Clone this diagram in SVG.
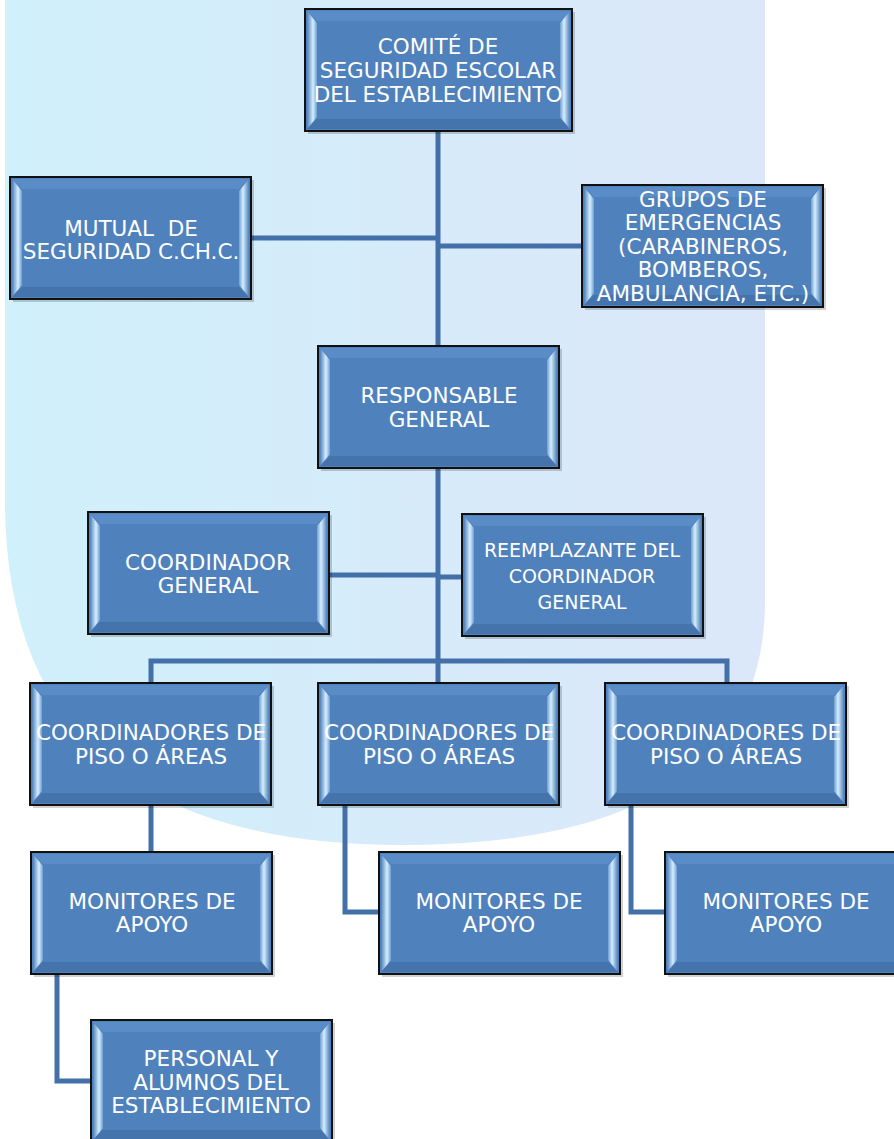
<svg xmlns="http://www.w3.org/2000/svg" xmlns:xlink="http://www.w3.org/1999/xlink" width="894" height="1139" viewBox="0 0 894 1139">
<style>
  .lbl{font-family:"DejaVu Sans","Liberation Sans",sans-serif;font-size:21.5px;fill:#ffffff;text-anchor:middle}
  .sm{font-size:19px}
  .conn{fill:none;stroke:#4370A8;stroke-width:5;stroke-linejoin:miter}
</style>
<defs>
  <linearGradient id="bg" x1="0" y1="0" x2="1" y2="0">
    <stop offset="0" stop-color="#D0F0FB"/>
    <stop offset="1" stop-color="#DCE7FA"/>
  </linearGradient>
  <linearGradient id="bevL" x1="0" y1="0" x2="1" y2="0">
    <stop offset="0" stop-color="#4F81BD"/>
    <stop offset="0.6" stop-color="#D6EEFD"/>
    <stop offset="1" stop-color="#6E9ED3"/>
  </linearGradient>
  <linearGradient id="bevR" x1="1" y1="0" x2="0" y2="0">
    <stop offset="0" stop-color="#4F81BD"/>
    <stop offset="0.6" stop-color="#D6EEFD"/>
    <stop offset="1" stop-color="#6E9ED3"/>
  </linearGradient>
  <g id="box">
    <rect x="3" y="3" width="241" height="122" fill="#000" opacity="0.18"/>
    <rect x="0" y="0" width="241" height="122" fill="#4F81BD" stroke="#111" stroke-width="2"/>
    <polygon points="2,2 239,2 229,12 12,12" fill="#5A8CC7"/>
    <polygon points="2,120 239,120 229,110 12,110" fill="#4574AD"/>
    <polygon points="2,2 12,14 12,108 2,120" fill="url(#bevL)"/>
    <polygon points="239,2 229,14 229,108 239,120" fill="url(#bevR)"/>
  </g>
  <g id="boxW">
    <rect x="3" y="3" width="267" height="122" fill="#000" opacity="0.18"/>
    <rect x="0" y="0" width="267" height="122" fill="#4F81BD" stroke="#111" stroke-width="2"/>
    <polygon points="2,2 265,2 255,12 12,12" fill="#5A8CC7"/>
    <polygon points="2,120 265,120 255,110 12,110" fill="#4574AD"/>
    <polygon points="2,2 12,14 12,108 2,120" fill="url(#bevL)"/>
    <polygon points="265,2 255,14 255,108 265,120" fill="url(#bevR)"/>
  </g>
</defs>
<rect x="0" y="0" width="894" height="1139" fill="#ffffff"/>
<path d="M5,0 H765 V600 Q765,845 400,845 Q5,845 5,500 Z" fill="url(#bg)"/>

<g id="connectors">
  <path class="conn" d="M438,131 V683"/>
  <path class="conn" d="M251,238 H438"/>
  <path class="conn" d="M438,246 H582"/>
  <path class="conn" d="M328,575 H438"/>
  <path class="conn" d="M438,577 H462"/>
  <path class="conn" d="M151,683 V661 H727 V683"/>
  <path class="conn" d="M151,804 V852"/>
  <path class="conn" d="M345,804 V912 H379"/>
  <path class="conn" d="M631,804 V912 H665"/>
  <path class="conn" d="M57,973 V1081 H91"/>
</g>

<g id="comite">
  <use xlink:href="#boxW" x="305" y="9"/>
  <text class="lbl" x="438" y="54">COMITÉ DE</text>
  <text class="lbl" x="438" y="78">SEGURIDAD ESCOLAR</text>
  <text class="lbl" x="438" y="102">DEL ESTABLECIMIENTO</text>
</g>
<g id="mutual">
  <use xlink:href="#box" x="10" y="177"/>
  <text class="lbl" x="131" y="236" xml:space="preserve">MUTUAL  DE</text>
  <text class="lbl" x="131" y="259">SEGURIDAD C.CH.C.</text>
</g>
<g id="grupos">
  <use xlink:href="#box" x="582" y="185"/>
  <text class="lbl" x="703" y="207">GRUPOS DE</text>
  <text class="lbl" x="703" y="230">EMERGENCIAS</text>
  <text class="lbl" x="703" y="254">(CARABINEROS,</text>
  <text class="lbl" x="703" y="277">BOMBEROS,</text>
  <text class="lbl" x="703" y="301">AMBULANCIA, ETC.)</text>
</g>
<g id="responsable">
  <use xlink:href="#box" x="318" y="346"/>
  <text class="lbl" x="439" y="403">RESPONSABLE</text>
  <text class="lbl" x="439" y="427">GENERAL</text>
</g>
<g id="coordinador">
  <use xlink:href="#box" x="88" y="512"/>
  <text class="lbl" x="208" y="570">COORDINADOR</text>
  <text class="lbl" x="208" y="593">GENERAL</text>
</g>
<g id="reemplazante">
  <use xlink:href="#box" x="462" y="514"/>
  <text class="lbl sm" x="582" y="557">REEMPLAZANTE DEL</text>
  <text class="lbl sm" x="582" y="583">COORDINADOR</text>
  <text class="lbl sm" x="582" y="609">GENERAL</text>
</g>
<g id="piso1">
  <use xlink:href="#box" x="30" y="683"/>
  <text class="lbl" x="151" y="740">COORDINADORES DE</text>
  <text class="lbl" x="151" y="764">PISO O ÁREAS</text>
</g>
<g id="piso2">
  <use xlink:href="#box" x="318" y="683"/>
  <text class="lbl" x="439" y="740">COORDINADORES DE</text>
  <text class="lbl" x="439" y="764">PISO O ÁREAS</text>
</g>
<g id="piso3">
  <use xlink:href="#box" x="605" y="683"/>
  <text class="lbl" x="726" y="740">COORDINADORES DE</text>
  <text class="lbl" x="726" y="764">PISO O ÁREAS</text>
</g>
<g id="monitores1">
  <use xlink:href="#box" x="31" y="852"/>
  <text class="lbl" x="152" y="909">MONITORES DE</text>
  <text class="lbl" x="152" y="932">APOYO</text>
</g>
<g id="monitores2">
  <use xlink:href="#box" x="379" y="852"/>
  <text class="lbl" x="499" y="909">MONITORES DE</text>
  <text class="lbl" x="499" y="932">APOYO</text>
</g>
<g id="monitores3">
  <use xlink:href="#box" x="665" y="852"/>
  <text class="lbl" x="786" y="909">MONITORES DE</text>
  <text class="lbl" x="786" y="932">APOYO</text>
</g>
<g id="personal">
  <use xlink:href="#box" x="91" y="1020"/>
  <text class="lbl" x="211" y="1066">PERSONAL Y</text>
  <text class="lbl" x="211" y="1090">ALUMNOS DEL</text>
  <text class="lbl" x="211" y="1113">ESTABLECIMIENTO</text>
</g>
</svg>
